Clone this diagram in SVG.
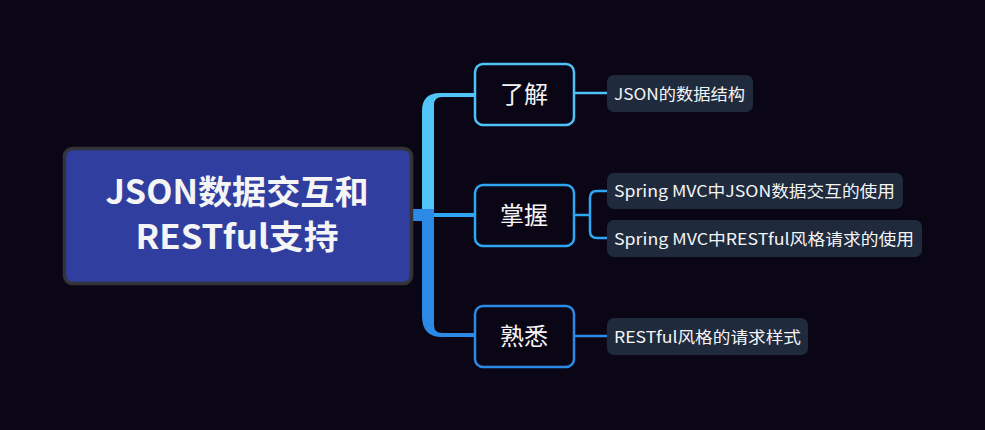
<svg xmlns="http://www.w3.org/2000/svg" width="985" height="430" viewBox="0 0 985 430">
<style>
text{font-family:"Noto Sans CJK SC","Noto Sans",sans-serif;fill:#f5f5f5}
.root{font-size:33px;font-weight:bold;text-anchor:middle}
.mid{font-size:24px;text-anchor:middle}
.leaf{font-size:16px}
.box{fill:#0b0616;stroke-width:2.5}
.lf{fill:#1f2a3d}
.ln{fill:none;stroke-width:2.5;stroke-linecap:round}
</style>
<rect width="985" height="430" fill="#0b0616"/>
<g id="connectors">
<path d="M434,209 L434,105 Q434,97 442,97 L474,97 L474,93 L440,93 Q422,93 422,111 L422,209 Z" fill="#52c5f8"/>
<path d="M422,209 L422,316 Q422,337 442,337 L474,337 L474,333 L442,333 Q434,333 434,325 L434,209 Z" fill="#2a8ae6"/>
<rect x="411" y="209" width="23" height="12" fill="#2a8ae6"/>
<rect x="434" y="213" width="40" height="4" fill="#2ea6f3"/>
<path class="ln" d="M574,93 L607,93" stroke="#4fc3f7"/>
<path class="ln" d="M574,215 L590,215 M607,191 L597,191 Q590,191 590,198 L590,231 Q590,238 597,238 L607,238" stroke="#2ea6f3"/>
<path class="ln" d="M574,336 L607,336" stroke="#2a8ae6"/>
</g>
<g id="root">
<rect x="64.5" y="148.5" width="347" height="135" rx="8" fill="#303f9f" stroke="#333338" stroke-width="3.5"/>
<text class="root" x="237" y="204" textLength="263" lengthAdjust="spacingAndGlyphs">JSON数据交互和</text>
<text class="root" x="237" y="249" textLength="203" lengthAdjust="spacingAndGlyphs">RESTful支持</text>
</g>
<g id="n-liaojie">
<rect class="box" x="475" y="64" width="99" height="61" rx="8" stroke="#4fc3f7"/>
<text class="mid" x="524" y="103">了解</text>
</g>
<g id="n-zhangwo">
<rect class="box" x="475" y="185" width="99" height="61" rx="8" stroke="#2ea6f3"/>
<text class="mid" x="524" y="224">掌握</text>
</g>
<g id="n-shuxi">
<rect class="box" x="475" y="306" width="99" height="61" rx="8" stroke="#2a8ae6"/>
<text class="mid" x="524" y="345">熟悉</text>
</g>
<g id="l1">
<rect class="lf" x="607" y="75" width="146" height="37" rx="7"/>
<text class="leaf" x="614" y="99.5" textLength="131" lengthAdjust="spacingAndGlyphs">JSON的数据结构</text>
</g>
<g id="l2">
<rect class="lf" x="607" y="173" width="296" height="36" rx="7"/>
<text class="leaf" x="614" y="197" textLength="281" lengthAdjust="spacingAndGlyphs">Spring MVC中JSON数据交互的使用</text>
</g>
<g id="l3">
<rect class="lf" x="607" y="220" width="315" height="37" rx="7"/>
<text class="leaf" x="614" y="244.5" textLength="300" lengthAdjust="spacingAndGlyphs">Spring MVC中RESTful风格请求的使用</text>
</g>
<g id="l4">
<rect class="lf" x="607" y="318" width="201" height="37" rx="7"/>
<text class="leaf" x="614" y="342.5" textLength="187" lengthAdjust="spacingAndGlyphs">RESTful风格的请求样式</text>
</g>
</svg>
